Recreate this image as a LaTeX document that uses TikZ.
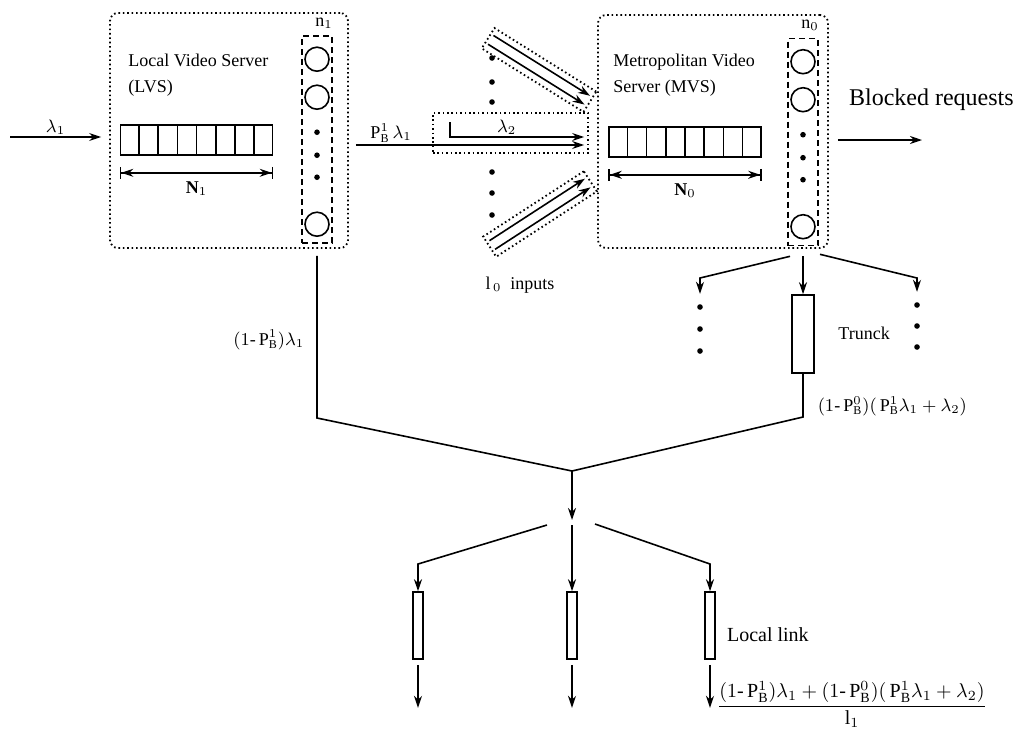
\documentclass[tikz,border=0pt]{standalone}
\usepackage{amsmath}
\usepackage{fontspec}
\setmainfont{Liberation Serif}
\usetikzlibrary{arrows.meta,calc}
\newcommand{\PB}[1]{\mathrm{P}^{#1}_{\mathrm{B}}}
\tikzset{
  vbox/.style={draw, rounded corners=4pt, line width=0.9pt, dash pattern=on 0.8pt off 1.4pt, inner sep=0pt},
  qbox/.style={draw, line width=0.8pt, minimum width=76pt, minimum height=15pt, inner sep=0pt},
  colbox/.style={draw, line width=0.8pt, dash pattern=on 3pt off 2pt, minimum width=15pt, minimum height=103.5pt, inner sep=0pt},
  srv/.style={draw, circle, line width=0.8pt, minimum size=12pt, inner sep=0pt},
  dot/.style={circle, fill, minimum size=2.8pt, inner sep=0pt},
  inbox/.style={draw, line width=0.9pt, dash pattern=on 0.8pt off 1.4pt, minimum width=60pt, minimum height=12pt, inner sep=0pt},
  linkbox/.style={draw, line width=0.8pt, minimum width=5pt, minimum height=33.5pt, inner sep=0pt},
  trunkbox/.style={draw, line width=0.8pt, minimum width=11pt, minimum height=39pt, inner sep=0pt},
  flow/.style={-{Stealth[length=6pt,width=4pt]}, line width=0.8pt},
  wire/.style={line width=0.8pt},
  span/.style={{Bar[width=6pt]Stealth[length=6pt,width=4pt]}-{Stealth[length=6pt,width=4pt]Bar[width=6pt]}, line width=0.8pt},
  lbl/.style={font=\small, inner sep=1pt},
}
\newcommand{\srvqueue}[3]{% name, position, size label
  \node[qbox] (#1) at (#2) {};
  \foreach \k in {1,...,7}
    \draw[line width=0.8pt] ($(#1.north west)!\k/8!(#1.north east)$) -- ($(#1.south west)!\k/8!(#1.south east)$);
  \draw[span] ([yshift=-8.5pt]#1.south west) -- node[lbl, below=3pt] (#1n) {#3} ([yshift=-8.5pt]#1.south east);}
\newcommand{\srvcol}[3]{% name, position, servers label
  \node[colbox] (#1) at (#2) {};
  \node[lbl] (#1n) at ([xshift=3.5pt,yshift=6pt]#1.north) {#3};
  \node[srv] (#1a) at ([yshift=-12pt]#1.north) {};
  \node[srv] (#1b) at ([yshift=-31pt]#1.north) {};
  \foreach \k [count=\i] in {48.5,60,71} \node[dot] (#1d\i) at ([yshift=-\k pt]#1.north) {};
  \node[srv] (#1c) at ([yshift=-94.5pt]#1.north) {};}

\begin{document}
\begin{tikzpicture}[x=0.5pt,y=-0.5pt]
  \useasboundingbox (0,0) rectangle (1015,736);
  % the two servers
  \node[vbox, minimum width=119pt, minimum height=117.5pt] (lvs) at (229,130.5) {};
  \node[vbox, minimum width=115pt, minimum height=116.5pt] (mvs) at (713,131.5) {};
  \node[lbl, anchor=west, align=left] (lvst) at (126,75) {Local Video Server\\[2pt](LVS)};
  \node[lbl, anchor=west, align=left] (mvst) at (611,75) {Metropolitan Video\\[2pt]Server (MVS)};
  \srvqueue{lvsq}{196.5,140}{$\mathbf{N}_1$}
  \srvqueue{mvsq}{685,142}{$\mathbf{N}_0$}
  \srvcol{lvsc}{317,139.5}{$\mathrm{n}_1$}
  \srvcol{mvsc}{803,142}{$\mathrm{n}_0$}

  % arrivals
  \coordinate (src) at (10,137);
  \draw[flow] (src) -- node[lbl, above] {$\lambda_1$} ([xshift=-4pt]src -| lvs.west);

  % inputs of the MVS
  \node[inbox, minimum width=77.5pt, minimum height=20pt] (inmid) at (510.5,133) {};
  \node[inbox, rotate=-32] (intop) at (539,70) {};
  \node[inbox, rotate=33] (inbot) at (540,214) {};
  \draw[flow, shorten <=3.5pt, shorten >=6.5pt] (lvs.east |- 0,145) -- node[lbl, above, pos=0.17] {$\PB{1}\,\lambda_1$} (mvs.west |- 0,145);
  \coordinate (l2) at (450,122);
  \draw[flow, shorten >=6.5pt] (l2) -- (l2 |- 0,137) -- node[lbl, above, pos=0.385] {$\lambda_2$} (mvs.west |- 0,137);
  \foreach \s in {intop,inbot} {
    \draw[flow, shorten <=2pt, shorten >=2pt] ($(\s.north west)!0.3!(\s.south west)$) -- ($(\s.north east)!0.3!(\s.south east)$);
    \draw[flow, shorten <=2pt, shorten >=2pt] ($(\s.north west)!0.7!(\s.south west)$) -- ($(\s.north east)!0.7!(\s.south east)$);
  }
  \foreach \y [count=\i] in {58,82,102,172,193,215} \node[dot] (id\i) at (492,\y) {};
  \node[lbl] (l0lab) at (520,285) {l$_{\,0}$~~inputs};

  % blocked
  \coordinate (blk) at (922,140);
  \draw[flow, shorten <=4.5pt] (mvs.east |- blk) -- (blk);
  \node[font=\large, anchor=west] (blklab) at (842,100) {Blocked requests};

  % trunks
  \node[trunkbox] (trunk) at (803,334) {};
  \node[lbl, anchor=west] (trlab) at (836,333) {Trunck};
  \draw[flow] ([yshift=-5pt]mvsc.south) -- (trunk.north);
  \foreach \y [count=\i] in {307,329,351} \node[dot] (ld\i) at (700,\y) {};
  \foreach \y [count=\i] in {305,326,347} \node[dot] (rd\i) at (917,\y) {};
  \coordinate (lbr) at (700,278);
  \coordinate (rbr) at (917,278);
  \draw[flow] ([xshift=-6.5pt,yshift=-5pt]mvsc.south) -- (lbr) -- ([yshift=5pt]ld1.north);
  \draw[flow] ([xshift=8.5pt,yshift=-4pt]mvsc.south) -- (rbr) -- ([yshift=5pt]rd1.north);

  % merging
  \coordinate (lcorner) at (lvsc.south |- 0,418);
  \coordinate (rcorner) at (trunk.south |- 0,417);
  \coordinate (merge) at (572,471);
  \draw[wire] ([yshift=-6pt]lvsc.south) -- node[lbl, left=5pt, pos=0.52] {$(1\text{-}\,\PB{1})\lambda_1$} (lcorner) -- (merge);
  \draw[wire] (trunk.south) -- node[lbl, right=6pt, pos=0.75] {$(1\text{-}\,\PB{0})(\,\PB{1}\lambda_1+\lambda_2)$} (rcorner) -- (merge);

  % local links
  \coordinate (mdown) at (572,520);
  \draw[flow] (merge) -- (mdown);
  \node[linkbox] (lk1) at (418,625.5) {};
  \node[linkbox] (lk2) at (572,625.5) {};
  \node[linkbox] (lk3) at (710,625.5) {};
  \coordinate (lb1) at (lk1.north |- 0,564);
  \coordinate (lb3) at (lk3.north |- 0,564);
  \draw[flow] ([xshift=-12.5pt,yshift=-2.5pt]mdown) -- (lb1) -- (lk1.north);
  \draw[flow] ([yshift=-2.5pt]mdown) -- (lk2.north);
  \draw[flow] ([xshift=11.5pt,yshift=-2pt]mdown) -- (lb3) -- (lk3.north);
  \foreach \n in {lk1,lk2,lk3} \draw[flow] ([yshift=-2.5pt]\n.south) -- ([yshift=-24pt]\n.south);
  \node[anchor=west] (lklab) at (720,635) {Local link};
  \node[inner sep=1pt, anchor=base] (share) at (852,711) {$\dfrac{(1\text{-}\,\PB{1})\lambda_1 + (1\text{-}\,\PB{0})(\,\PB{1}\lambda_1+\lambda_2)}{\mathrm{l}_1}$};
\end{tikzpicture}
\end{document}
